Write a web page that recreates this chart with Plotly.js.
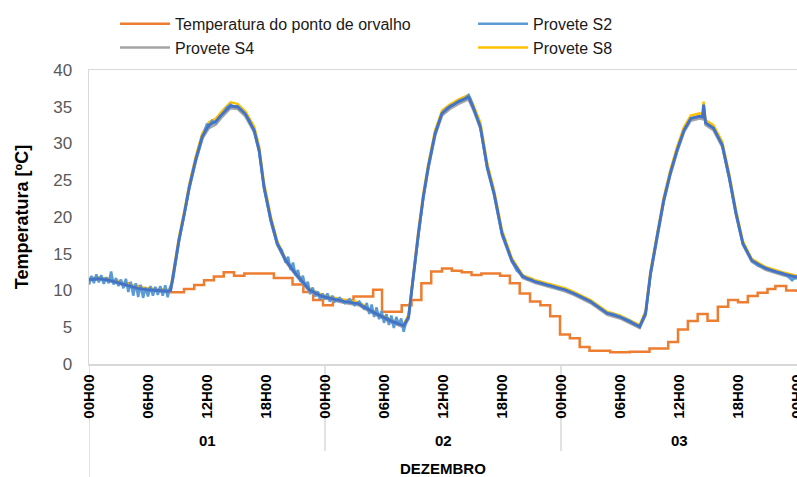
<!DOCTYPE html>
<html>
<head>
<meta charset="utf-8">
<script src="https://cdn.plot.ly/plotly-3.0.1.min.js"></script>
<style>html,body{margin:0;padding:0;background:#fff;}#chart{width:797px;height:477px;}</style>
</head>
<body>
<div id="chart"></div>
<script>
// ---- time axis (hours since 01 Dec 00H00) ----
const tickHours = [0, 6, 12, 18, 24, 30, 36, 42, 48, 54, 60, 66, 72];
const tickLabels = ["00H00","06H00","12H00","18H00","00H00","06H00","12H00","18H00","00H00","06H00","12H00","18H00","00H00"];
const dayCenters = [12, 36, 60];
const dayLabels = ["01", "02", "03"];
const dayBounds = [24, 48];
const monthLabel = "DEZEMBRO";

// ---- dew point (stepped) ----
const dewHrs = [0,1,2,3,4,5,6,7,8.3,9.66,10.7,11.7,12.7,13.7,14.75,15.8,18.8,20.7,21.8,22.8,23.8,24.8,26.9,28.9,29.8,31.8,32.8,33.8,34.8,35.9,36.9,37.9,38.9,39.9,41.8,42.8,43.8,44.85,45.9,46.9,47.9,48.9,49.9,50.9,53,55,57,58.9,59.9,60.9,61.9,62.9,63.95,65,66,67,68,69,69.8,70.9,72];
const dewT   = [11.5,11.5,11.3,11.0,10.6,10.3,10.1,10.0,9.75,10.2,10.75,11.4,11.9,12.5,12.0,12.3,11.7,10.8,9.8,8.7,8.0,8.7,9.2,10.1,7.1,8.0,8.7,11.0,12.6,13.0,12.7,12.5,12.1,12.3,12.0,11.0,9.6,8.5,8.0,6.5,4.0,3.5,2.3,1.8,1.6,1.65,2.1,3.0,4.7,5.85,6.8,5.9,7.8,8.7,8.4,9.25,9.7,10.2,10.6,10.0,9.8];

// ---- specimen temperatures (common time grid) ----
const hrs = [0,1,2,3,4,5,6,7,8,8.3,8.6,9.15,9.7,10.2,10.85,11.5,12.2,12.9,13.6,14.4,15.1,15.9,16.8,17.3,17.8,18.5,19.15,20,21,22.4,23.7,25,26,27.4,29.1,30.8,32,32.5,33,33.5,34,34.5,35.2,35.9,36.7,37.6,38.6,39.1,39.8,40.5,41.2,42,43,44.1,45.4,47.1,48.4,49.3,51,52.7,54,56,56.6,57.1,57.8,58.45,59.1,59.8,60.5,61.2,62.1,62.4,62.5,62.7,63.5,64.4,65.1,65.8,66.5,67.4,68.8,70.5,72];
const meanT = [11.5,11.6,11.4,11.0,10.6,10.3,10.1,10.0,9.9,10.0,12.3,16.9,20.5,24.1,27.8,30.9,32.5,33.0,34.1,35.1,35.0,34.0,31.8,29.1,24.1,19.6,16.4,14.1,12.3,10.1,9.2,8.8,8.5,8.2,6.9,5.8,5.2,6.4,12.3,17.8,22.8,26.8,31.4,34.1,35.0,35.7,36.3,34.8,32.3,26.8,23.2,17.8,14.1,11.9,11.2,10.6,10.1,9.6,8.5,6.9,6.4,5.1,6.9,12.3,17.8,22.3,25.9,29.1,31.8,33.4,33.7,33.6,35.3,32.8,32.1,29.8,25.5,20.5,16.4,14.1,13.0,12.3,11.8];
const s8T = [11.7,11.8,11.6,11.2,10.8,10.5,10.3,10.2,10.1,10.2,12.6,17.3,20.9,24.5,28.2,31.3,32.9,33.4,34.5,35.6,35.4,34.4,32.3,29.6,24.6,20.0,16.7,14.3,12.5,10.3,9.4,9.0,8.7,8.4,7.1,6.0,5.4,6.7,12.7,18.2,23.2,27.2,31.8,34.5,35.3,36.0,36.6,35.2,32.8,27.3,23.6,18.2,14.4,12.1,11.4,10.8,10.3,9.8,8.7,7.1,6.6,5.3,7.2,12.7,18.2,22.7,26.3,29.5,32.2,33.8,34.1,34.0,35.7,33.2,32.5,30.2,25.9,20.9,16.7,14.3,13.2,12.5,12.0];
const s4T = [11.4,11.5,11.3,10.9,10.5,10.2,10.0,9.9,9.8,9.9,12.0,16.6,20.2,23.8,27.5,30.6,32.1,32.6,33.7,34.8,34.7,33.7,31.5,28.8,23.8,19.3,16.2,13.9,12.1,9.9,9.0,8.6,8.3,8.0,6.7,5.6,5.0,6.1,12.0,17.5,22.5,26.5,31.0,33.8,34.7,35.4,36.0,34.5,32.0,26.5,22.9,17.5,13.9,11.7,11.0,10.4,9.9,9.4,8.3,6.7,6.2,4.9,6.6,12.0,17.5,22.0,25.6,28.8,31.5,33.1,33.4,33.3,34.9,32.5,31.8,29.5,25.2,20.2,16.2,13.9,12.8,12.1,11.6];

// ---- Provete S2 (noisier record, own time grid) ----
const s2Hrs = [0,0.25,0.5,0.75,1,1.25,1.5,1.75,2,2.25,2.5,2.75,3,3.25,3.5,3.75,4,4.25,4.5,4.75,5,5.25,5.5,5.75,6,6.25,6.5,6.75,7,7.25,7.5,7.75,8,8.25,8.5,
  9.15,9.7,10.2,10.85,11.5,11.8,12.0,12.2,12.5,12.9,13.3,13.6,14.0,14.4,14.7,15.1,15.5,15.9,16.3,16.8,17.3,17.8,18.5,19.15,19.6,
  20,20.25,20.5,20.75,21,21.25,21.5,21.75,22,22.25,22.5,22.75,23,23.25,23.5,23.75,24,24.25,24.5,24.75,25,25.5,26,26.5,27,27.5,
  28,28.25,28.5,28.75,29,29.25,29.5,29.75,30,30.25,30.5,30.75,31,31.25,31.5,31.75,32,32.25,32.5,
  33,33.5,34,34.5,35.2,35.9,36.3,36.7,37.2,37.6,38.2,38.6,38.8,39.1,39.8,40.5,41.2,42,43,43.5,44.1,44.6,45,45.4,46,46.5,47.1,47.6,48.4,49.3,50,51,51.7,52.7,53.3,54,55,55.5,56,
  56.6,57.1,57.8,58.45,59.1,59.8,60.5,61.2,62.1,62.4,62.5,62.7,63.5,64.4,65.1,65.8,66.5,67.4,68,68.8,69.5,70.5,71,71.5,72];
const s2T = [10.8,12.0,11.0,12.2,11.1,12.1,10.9,11.8,11.0,12.6,10.8,11.7,10.6,11.5,10.3,11.6,9.8,11.2,9.3,11.0,9.1,10.8,9.0,10.4,9.2,10.6,9.3,10.5,9.4,10.6,9.3,10.7,9.1,10.5,11.2,
  16.8,20.4,24.0,27.6,30.8,31.9,32.7,32.2,33.1,32.8,33.7,34.0,34.9,35.3,35.0,35.1,34.6,34.0,33.2,31.6,29.0,24.0,19.4,16.2,15.5,
  13.8,14.6,12.8,13.8,12.1,12.8,11.2,12.0,10.5,11.2,9.5,10.4,9.2,9.9,8.8,9.6,8.8,9.6,8.5,9.3,8.5,9.0,8.3,8.8,8.0,8.5,
  7.4,8.3,6.8,8.1,6.4,7.7,6.1,7.2,5.6,6.8,5.3,6.6,4.9,6.4,5.4,6.2,4.4,5.7,6.4,
  12.2,17.7,22.7,26.7,31.3,34.1,34.7,35.1,35.4,35.8,36.1,36.6,36.1,34.9,32.2,26.7,23.1,17.7,14.0,12.7,12.0,11.5,11.5,11.1,11.0,10.7,10.6,10.3,10.1,9.6,9.2,8.5,7.8,6.9,6.8,6.4,5.9,5.4,5.0,
  6.8,12.2,17.7,22.2,25.8,29.0,31.7,33.4,33.7,33.6,35.2,32.8,32.1,29.7,25.4,20.4,16.3,14.1,13.4,13.1,12.6,12.4,12.0,11.4,12.0];

const FONT = "Liberation Sans, Arial, sans-serif";
const GRIDC = "#d9d9d9";

const traces = [
  {x: dewHrs, y: dewT, name: "Temperatura do ponto de orvalho", mode: "lines", line: {color: "#ED7D31", width: 2.5, shape: "hv"}, legend: "legend", legendrank: 1},
  {x: hrs, y: s4T, name: "Provete S4", mode: "lines", line: {color: "#A5A5A5", width: 2.5}, legend: "legend", legendrank: 2},
  {x: hrs, y: s8T, name: "Provete S8", mode: "lines", line: {color: "#FFC000", width: 2.5}, legend: "legend2", legendrank: 2},
  {x: s2Hrs, y: s2T, name: "Provete S2", mode: "lines", line: {color: "#5B9BD5", width: 2.5}, legend: "legend2", legendrank: 1},
  {x: hrs, y: meanT, name: "Média", mode: "lines", line: {color: "#4472C4", width: 2.8}, showlegend: false}
];

const shapes = dayBounds.map(h => ({type: "line", layer: "below", xref: "x", yref: "paper", x0: h, x1: h, y0: 0, y1: -0.296, line: {color: GRIDC, width: 1.5}}));
shapes.push({type: "line", layer: "below", xref: "x", yref: "paper", x0: 0, x1: 0, y0: 0, y1: -0.4, line: {color: GRIDC, width: 1.5}});

const annotations = dayCenters.map((h, i) => ({x: h, xref: "x", y: -0.259, yref: "paper", text: dayLabels[i], showarrow: false, xanchor: "center", yanchor: "middle", font: {family: FONT, size: 15, color: "#000", weight: "bold"}}));
annotations.push({x: 36, xref: "x", y: -0.354, yref: "paper", text: monthLabel, showarrow: false, xanchor: "center", yanchor: "middle", font: {family: FONT, size: 15, color: "#000", weight: "bold"}});

const legendBase = {orientation: "v", xanchor: "left", y: 1.215, yanchor: "top", itemwidth: 50, font: {family: FONT, size: 16, color: "#1a1a1a"}, bgcolor: "rgba(0,0,0,0)", tracegroupgap: 0};

const layout = {
  width: 797, height: 477,
  margin: {l: 89, r: 0, t: 70, b: 113},
  paper_bgcolor: "#fff", plot_bgcolor: "#fff",
  font: {family: FONT},
  showlegend: true,
  legend: Object.assign({}, legendBase, {x: 0.0367}),
  legend2: Object.assign({}, legendBase, {x: 0.5424}),
  xaxis: {range: [0, 72], tickmode: "array", tickvals: tickHours, ticktext: tickLabels, tickangle: -90,
    tickfont: {family: FONT, size: 15, color: "#000", weight: "bold"}, ticks: "", ticklabelstandoff: 3, ticklabeloverflow: "allow",
    showline: true, linecolor: GRIDC, linewidth: 1.5, mirror: true, showgrid: false, zeroline: false},
  yaxis: {range: [0, 40], dtick: 5, tickfont: {family: FONT, size: 17, color: "#595959"}, ticks: "", ticklabelstandoff: 12,
    showline: true, linecolor: GRIDC, linewidth: 1.5, showgrid: false, zeroline: false,
    title: {text: "Temperatura [ºC]", font: {family: FONT, size: 18, color: "#000", weight: "bold"}, standoff: 20}},
  shapes: shapes,
  annotations: annotations
};

Plotly.newPlot("chart", traces, layout, {displayModeBar: false, staticPlot: true});
</script>
</body>
</html>
